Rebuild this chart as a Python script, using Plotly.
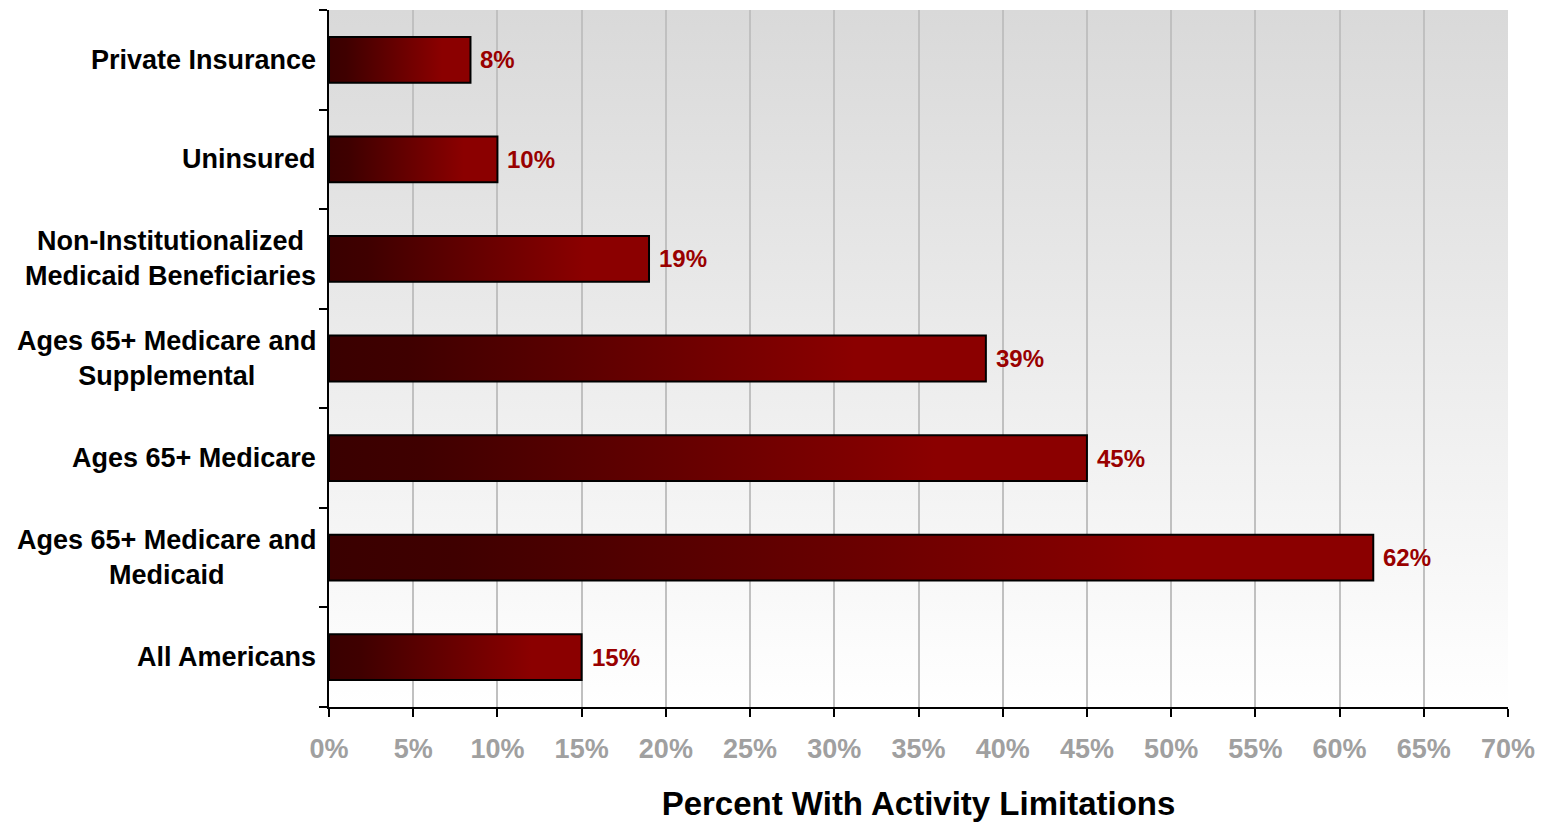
import base64
import plotly.graph_objects as go

# data (top to bottom)
categories = [
    "Private Insurance",
    "Uninsured",
    "Non-Institutionalized<br>Medicaid Beneficiaries",
    "Ages 65+ Medicare and<br>Supplemental",
    "Ages 65+ Medicare",
    "Ages 65+ Medicare and<br>Medicaid",
    "All Americans",
]
values = [8.4, 10, 19, 39, 45, 62, 15]
value_labels = ["8%", "10%", "19%", "39%", "45%", "62%", "15%"]
x_ticks = [0, 5, 10, 15, 20, 25, 30, 35, 40, 45, 50, 55, 60, 65, 70]

FONT = "Liberation Sans"
BAR_H = 0.46
bar_scale = [[0, "#3a0000"], [0.12, "#3f0000"], [0.8, "#8b0000"], [1, "#8b0000"]]

fig = go.Figure()

# bars as filled shapes so each one can carry a left-to-right gradient
for i, (cat, v) in enumerate(zip(categories, values)):
    y0, y1 = i - BAR_H / 2, i + BAR_H / 2
    fig.add_trace(go.Scatter(
        x=[0, v, v, 0, 0],
        y=[y0, y0, y1, y1, y0],
        mode="lines",
        fill="toself",
        fillgradient=dict(type="horizontal", colorscale=bar_scale, start=0, stop=v),
        line=dict(color="black", width=2),
        name=cat.replace("<br>", " "),
        hoveron="fills",
        showlegend=False,
    ))

annotations = []
# category labels, centred per line like the original
for i, cat in enumerate(categories):
    annotations.append(dict(
        text=cat, x=0, xref="paper", xanchor="right", xshift=-11,
        y=i, yref="y", yanchor="middle", align="center", showarrow=False,
        font=dict(family=FONT, size=27, color="black", weight="bold"),
    ))
# value labels at the end of each bar
for i, (v, lab) in enumerate(zip(values, value_labels)):
    annotations.append(dict(
        text=lab, x=v, xref="x", xanchor="left", xshift=8,
        y=i, yref="y", yanchor="middle", showarrow=False,
        font=dict(family=FONT, size=24, color="#990000", weight="bold"),
    ))

# grey vertical gradient behind the plot area
svg = ('<svg xmlns="http://www.w3.org/2000/svg" width="10" height="100" preserveAspectRatio="none">'
       '<defs><linearGradient id="g" x1="0" y1="0" x2="0" y2="1">'
       '<stop offset="0" stop-color="#d9d9d9"/><stop offset="1" stop-color="#ffffff"/>'
       '</linearGradient></defs><rect width="10" height="100" fill="url(#g)"/></svg>')
bg_src = "data:image/svg+xml;base64," + base64.b64encode(svg.encode()).decode()

# page body adds 8px, so the figure is 8px smaller to fill the window
fig.update_layout(
    width=1542,
    height=814,
    margin=dict(l=321, r=42, t=2, b=108),
    paper_bgcolor="white",
    plot_bgcolor="rgba(0,0,0,0)",
    showlegend=False,
    annotations=annotations,
    images=[dict(source=bg_src, xref="x domain", yref="y domain", x=0, y=1,
                 sizex=1, sizey=1, sizing="stretch", xanchor="left", yanchor="top",
                 layer="below")],
    xaxis=dict(
        range=[0, 70],
        tickvals=x_ticks,
        ticktext=[f"{t}%" for t in x_ticks],
        showgrid=True, gridcolor="#c0c0c0", gridwidth=2,
        zeroline=False,
        showline=True, linecolor="black", linewidth=2,
        ticks="outside", ticklen=8, tickwidth=2, tickcolor="black",
        ticklabelstandoff=9,
        tickfont=dict(family=FONT, size=27, color="#a0a0a0", weight="bold"),
        title=dict(text="Percent With Activity Limitations", standoff=32,
                   font=dict(family=FONT, size=33, color="black", weight="bold")),
    ),
    yaxis=dict(
        range=[len(categories) - 0.5, -0.5],
        showticklabels=False,
        ticks="",
        showgrid=False,
        zeroline=False,
        showline=True, linecolor="black", linewidth=2,
        minor=dict(tickvals=[i - 0.5 for i in range(len(categories) + 1)],
                   ticks="outside", ticklen=8, tickwidth=2, tickcolor="black",
                   showgrid=False),
    ),
)

fig.write_html("out.html")
